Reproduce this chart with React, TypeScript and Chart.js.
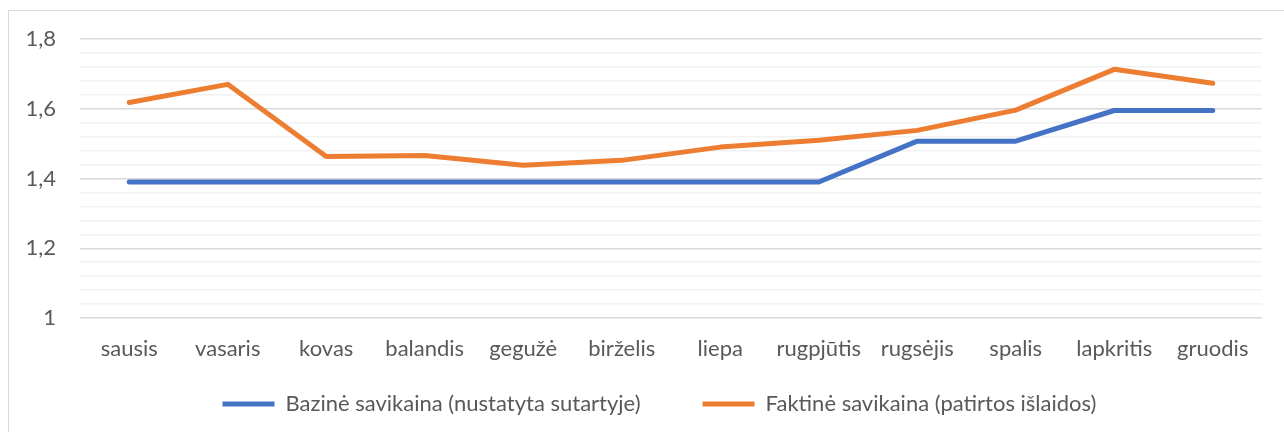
import React, { useEffect, useRef } from 'react';
import { Chart, registerables } from 'chart.js';

Chart.register(...registerables);

const months = ['sausis', 'vasaris', 'kovas', 'balandis', 'gegužė', 'birželis', 'liepa', 'rugpjūtis', 'rugsėjis', 'spalis', 'lapkritis', 'gruodis'];
const baseCost = [1.39, 1.39, 1.39, 1.39, 1.39, 1.39, 1.39, 1.39, 1.507, 1.507, 1.595, 1.595];
const actualCost = [1.618, 1.67, 1.463, 1.466, 1.438, 1.452, 1.49, 1.51, 1.538, 1.596, 1.713, 1.673];
const seriesLabels = ['Bazinė savikaina (nustatyta sutartyje)', 'Faktinė savikaina (patirtos išlaidos)'];
const majorTickValues = [1, 1.2, 1.4, 1.6, 1.8];
const majorTickLabels = ['1', '1,2', '1,4', '1,6', '1,8'];

const FONT = "Lato, 'Open Sans', sans-serif";
const TEXT = '#595959';
const FONT_SIZE = 22;
const LEGEND_GAP = 62;
const LEGEND_DX = 24;
const LEGEND_TEXT_Y = 393;

function majorIndex(v: number): number {
  return majorTickValues.findIndex((m) => Math.abs(m - v) < 1e-6);
}

const legendPlacer = {
  id: 'legendPlacer',
  afterLayout(chart: any) {
    const lg = chart.legend;
    if (!lg) return;
    const targetTop = LEGEND_TEXT_Y - LEGEND_GAP - FONT_SIZE / 2;
    lg.top = targetTop;
    lg.bottom = chart.height;
    lg.height = lg.bottom - lg.top;
    lg.left += LEGEND_DX;
    lg.right += LEGEND_DX;
  },
};

export default function App() {
  const ref = useRef<HTMLCanvasElement | null>(null);

  useEffect(() => {
    document.body.style.margin = '0';
    if (!ref.current) return;
    const chart = new Chart(ref.current, {
      type: 'line',
      data: {
        labels: months,
        datasets: [
          {
            label: seriesLabels[0],
            data: baseCost,
            borderColor: '#4472C4',
            backgroundColor: '#4472C4',
            borderWidth: 5,
            pointRadius: 0,
            borderCapStyle: 'round',
            borderJoinStyle: 'round',
            tension: 0,
          },
          {
            label: seriesLabels[1],
            data: actualCost,
            borderColor: '#ED7D31',
            backgroundColor: '#ED7D31',
            borderWidth: 5,
            pointRadius: 0,
            borderCapStyle: 'round',
            borderJoinStyle: 'round',
            tension: 0,
          },
        ],
      },
      options: {
        responsive: false,
        animation: false,
        layout: { padding: { left: 0, right: 22, top: 28, bottom: 0 } },
        plugins: {
          tooltip: { enabled: false },
          legend: {
            position: 'bottom',
            align: 'center',
            maxHeight: 62,
            labels: {
              usePointStyle: true,
              pointStyle: 'line',
              pointStyleWidth: 52,
              padding: LEGEND_GAP,
              color: TEXT,
              font: { family: FONT, size: FONT_SIZE },
            },
          },
        },
        scales: {
          x: {
            offset: true,
            grid: { display: false },
            border: { display: false },
            ticks: { color: TEXT, font: { family: FONT, size: FONT_SIZE }, padding: 10, maxRotation: 0, autoSkip: false },
            afterFit: (scale: any) => { scale.height = 52; },
          },
          y: {
            min: 1,
            max: 1.8,
            border: { display: false },
            grid: {
              drawTicks: false,
              color: (ctx: any) => (majorIndex(ctx.tick.value) >= 0 ? '#d9d9d9' : '#f2f2f2'),
              lineWidth: 1.5,
            },
            ticks: {
              stepSize: 0.04,
              autoSkip: false,
              padding: 24,
              color: TEXT,
              font: { family: FONT, size: FONT_SIZE },
              callback: (v: any) => {
                const i = majorIndex(Number(v));
                return i >= 0 ? majorTickLabels[i] : '';
              },
            },
            afterFit: (scale: any) => {
              scale.width = 71;
              scale.paddingTop = 0;
              scale.paddingBottom = 0;
            },
          },
        },
      },
      plugins: [legendPlacer],
    });
    return () => chart.destroy();
  }, []);

  return (
    <div
      style={{
        position: 'absolute',
        left: 8,
        top: 10,
        width: 1276,
        height: 422,
        borderTop: '1px solid #d9d9d9',
        borderLeft: '1px solid #d9d9d9',
        boxSizing: 'border-box',
        background: '#fff',
      }}
    >
      <canvas ref={ref} width={1275} height={421} style={{ display: 'block' }} />
    </div>
  );
}
